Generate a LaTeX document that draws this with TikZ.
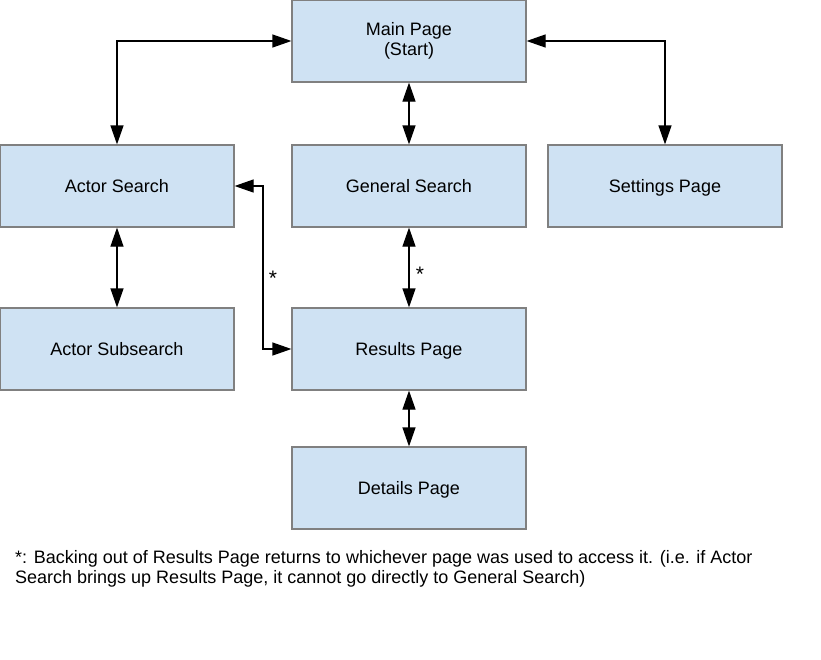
\documentclass[tikz,border=0pt]{standalone}
\usepackage{fontspec}
\setmainfont{Liberation Sans}
\usetikzlibrary{arrows.meta}
\definecolor{boxfill}{HTML}{CFE2F3}
\definecolor{boxline}{HTML}{808080}
\begin{document}
\begin{tikzpicture}[x=1pt,y=-1pt,
  page/.style={draw=boxline,line width=1.2pt,fill=boxfill,minimum width=234pt,minimum height=82pt,
    inner sep=0pt,font=\fontsize{18}{20}\selectfont,align=center},
  oneline/.style={page,text height=13pt,text depth=1pt},
  link/.style={line width=1.2pt,{Triangle[length=19pt,width=13pt]}-{Triangle[length=19pt,width=13pt]}},
  star/.style={font=\fontsize{21}{20}\selectfont}]
\useasboundingbox (0,0) rectangle (821,659);
% pages
\node[page] (main) at (409,41) {\raisebox{-2pt}{Main Page}\\\raisebox{-2pt}{(Start)}};
\node[oneline] (actor) at (117,186) {Actor Search};
\node[oneline] (general) at (409,186) {General Search};
\node[oneline] (settings) at (665,186) {Settings Page};
\node[oneline] (subsearch) at (117,349) {Actor Subsearch};
\node[oneline] (results) at (409,349) {Results Page};
\node[oneline] (details) at (409,488) {Details Page};
% links between pages
\draw[link] (main.west) -| (actor.north);
\draw[link] (main.east) -| (settings.north);
\draw[link] (main.south) -- (general.north);
\draw[link] (actor.south) -- (subsearch.north);
\draw[link] (general.south) -- node[star,right,xshift=3pt,yshift=-7pt] (s1) {*} (results.north);
\draw[link] (results.south) -- (details.north);
\coordinate (bendtop) at (263,186);
\coordinate (bendbot) at (263,349);
\draw[link] (actor.east) -- (bendtop) -- node[star,right,xshift=2pt,yshift=-11pt] (s2) {*} (bendbot) -- (results.west);
% footnote
\node[anchor=north west,align=left,inner sep=0pt,font=\fontsize{18}{20.5}\selectfont] (note) at (15,550)
  {*: Backing out of Results Page returns to whichever page was used to access it. (i.e. if Actor\\
   Search brings up Results Page, it cannot go directly to General Search)};
\end{tikzpicture}
\end{document}
